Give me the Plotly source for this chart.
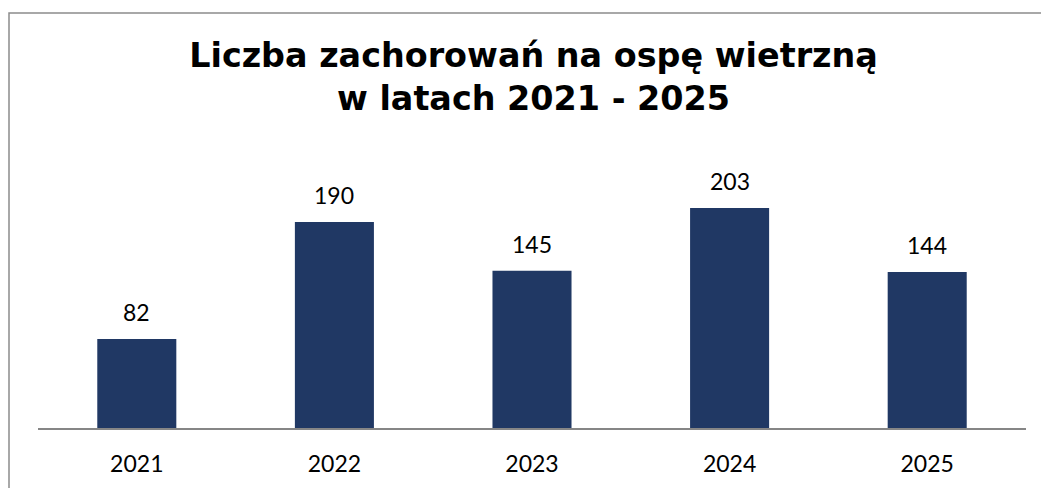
import plotly.graph_objects as go

years = ["2021", "2022", "2023", "2024", "2025"]
cases = [82, 190, 145, 203, 144]
title_lines = ["Liczba zachorowań na ospę wietrzną", "w latach 2021 - 2025"]

W, H = 1041, 488
L, R, T, B = 38, 15, 157, 60

fig = go.Figure()
fig.add_trace(go.Bar(
    x=years, y=cases,
    marker=dict(color="#203864", line=dict(width=0)),
    hoverinfo="skip",
))

for i, v in enumerate(cases):
    fig.add_annotation(
        x=i, y=v, xref="x", yref="y",
        text=str(v), showarrow=False,
        yanchor="middle", yshift=27,
        font=dict(family="Lato", size=23, color="#000000"),
    )

pw = W - L - R
ph = H - T - B
fig.add_shape(
    type="rect", xref="paper", yref="paper",
    x0=(9 - L) / pw, x1=(1060 - L) / pw,
    y0=(H - B - 520) / ph, y1=(H - B - 13) / ph,
    line=dict(color="#8c8c8c", width=1.5),
    fillcolor="rgba(0,0,0,0)",
    layer="above",
)

fig.update_layout(
    width=W, height=H,
    margin=dict(l=L, r=R, t=T, b=B, autoexpand=False),
    paper_bgcolor="white", plot_bgcolor="white",
    showlegend=False,
    bargap=0.6,
    title=dict(
        text="<br>".join(title_lines),
        x=533.5 / W, xanchor="center", xref="container",
        y=1 - 67 / H, yanchor="middle", yref="container",
        font=dict(family="DejaVu Sans", size=33.4, color="#000000", weight="bold"),
    ),
    xaxis=dict(
        type="category", range=[-0.5, len(years) - 0.5],
        automargin=False,
        showgrid=False, zeroline=False,
        showline=True, linecolor="#868686", linewidth=2,
        ticks="", ticklabelstandoff=14,
        tickfont=dict(family="Lato", size=23, color="#000000"),
    ),
    yaxis=dict(
        range=[0, 250], visible=False, showgrid=False, zeroline=False,
        automargin=False,
    ),
)

fig.write_html(
    "out.html",
    config={"displayModeBar": False, "staticPlot": True},
    post_script="document.body.style.margin='0px';document.body.style.overflow='hidden';",
)
